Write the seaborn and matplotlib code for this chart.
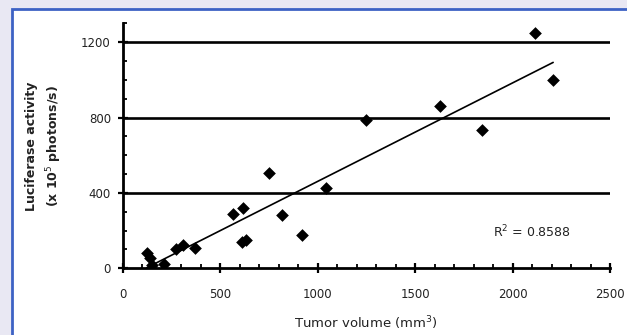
import numpy as np
import pandas as pd
import matplotlib
matplotlib.use("Agg")
import matplotlib.pyplot as plt
from matplotlib.patches import Rectangle
from matplotlib.ticker import MultipleLocator
import seaborn as sns

# tumor volume (mm3) vs luciferase activity
tumor_volume = [123, 140, 149, 213, 273, 310, 370, 565, 617, 613, 630,
                748, 816, 918, 1043, 1249, 1626, 1842, 2113, 2208]
luciferase = [80, 53, 18, 23, 101, 124, 107, 290, 320, 142, 151,
              507, 284, 178, 427, 786, 860, 737, 1249, 998]
x_ticks = [0, 500, 1000, 1500, 2000, 2500]
y_ticks = [0, 400, 800, 1200]
r2_text = "R$^2$ = 0.8588"

df = pd.DataFrame({"volume": tumor_volume, "activity": luciferase})

sns.set_theme(style="ticks")
plt.rcParams["font.family"] = ["DejaVu Sans"]

fig = plt.figure(figsize=(6.27, 3.35), dpi=100)
fig.patch.set_facecolor("#e9e8f3")
# white panel with blue frame
panel = Rectangle((12 / 627, -0.05), 1.0, (335 - 9) / 335 + 0.05,
                  transform=fig.transFigure, facecolor="white",
                  edgecolor="#3d62c4", lw=2, zorder=-5)
fig.patches.append(panel)

ax = fig.add_axes([0.1957, 0.199, 0.973 - 0.1957, 0.930 - 0.199])
ax.set_zorder(2)
ax.set_facecolor("none")

for yv in y_ticks[1:]:
    ax.axhline(yv, color="black", lw=1.9, zorder=1)

sns.regplot(data=df, x="volume", y="activity", scatter=False, ci=None,
            color="black", line_kws={"lw": 1.2}, ax=ax, truncate=True)
sns.scatterplot(data=df, x="volume", y="activity", marker="D", s=42,
                color="black", edgecolor="black", linewidth=0, ax=ax, zorder=3)

ax.set_xlim(0, 2500)
ax.set_ylim(0, 1300)
ax.set_xticks(x_ticks)
ax.set_yticks(y_ticks)
ax.xaxis.set_minor_locator(MultipleLocator(100))
ax.yaxis.set_minor_locator(MultipleLocator(100))
ax.tick_params(which="major", direction="inout", length=7, width=1.6,
               labelsize=8.5, labelcolor="#222222", color="black")
ax.tick_params(axis="x", which="major", pad=11)
ax.tick_params(axis="y", which="major", pad=5)
ax.tick_params(which="minor", direction="in", length=3, width=1.3, color="black")

sns.despine(ax=ax)
for side in ["left", "bottom"]:
    ax.spines[side].set_linewidth(2.0)
    ax.spines[side].set_color("black")

ax.set_xlabel("Tumor volume (mm$^3$)", fontsize=9.5, color="#222222", labelpad=9)
ax.set_ylabel("Luciferase activity\n(x 10$^5$ photons/s)", fontsize=9,
              color="#222222", labelpad=12, fontweight="bold", linespacing=1.5)
ax.text(1900, 194, r2_text, fontsize=9, color="#222222", va="center")

fig.savefig("out.png", dpi=100, facecolor=fig.get_facecolor())
